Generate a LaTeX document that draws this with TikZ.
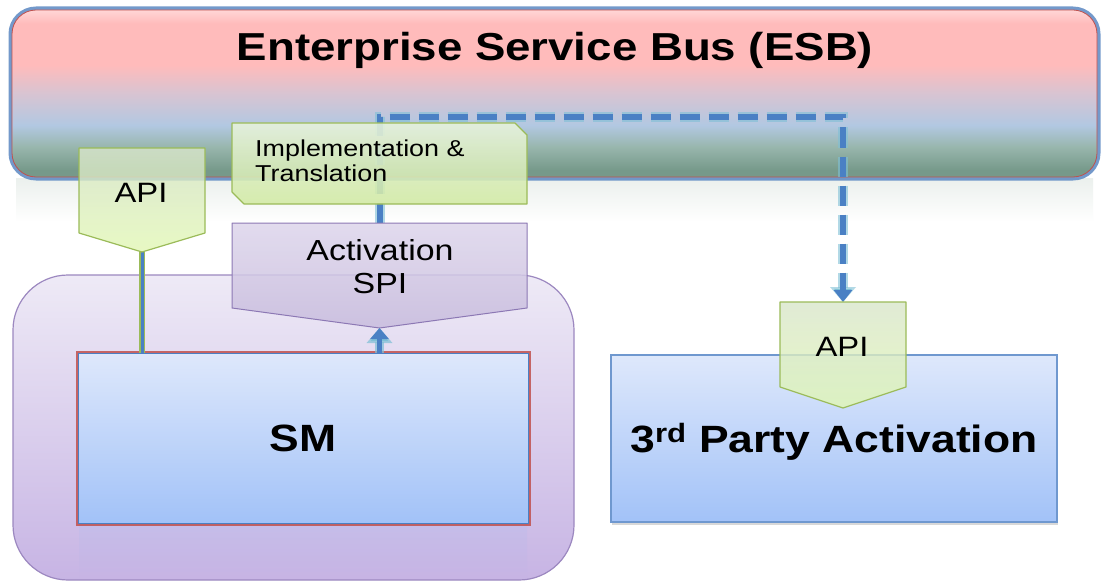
\documentclass[tikz,border=0pt]{standalone}
\usepackage{fontspec}
\setmainfont{Liberation Sans}
\newfontfamily\widefont[FakeStretch=1.17]{Liberation Sans}
\usetikzlibrary{arrows.meta,calc,shadows}

% bus colours
\definecolor{esbpinktop}{HTML}{FFD6D6}
\definecolor{esbpink}{HTML}{FFBBBB}
\definecolor{esbmauve}{HTML}{D8C4D2}
\definecolor{esbblue}{HTML}{B2C8E2}
\definecolor{esbteal}{HTML}{98B6AD}
\definecolor{esbgreen}{HTML}{76998A}
\definecolor{esbfade}{HTML}{EBF0ED}
\definecolor{glowblue}{HTML}{5B88C2}
\definecolor{busred}{HTML}{C0504D}
% tags and boxes
\definecolor{tagtop}{HTML}{D9E6CB}
\definecolor{tagbottom}{HTML}{E1F7B4}
\definecolor{tagline}{HTML}{9BBB59}
\definecolor{impltop}{HTML}{E8F3DC}
\definecolor{implbottom}{HTML}{D1EAA4}
\definecolor{spitop}{HTML}{DDD5EB}
\definecolor{spibottom}{HTML}{C8BCDE}
\definecolor{spiline}{HTML}{8C78B4}
\definecolor{zonetop}{HTML}{EEEAF6}
\definecolor{zonebottom}{HTML}{C7B4E4}
\definecolor{zoneline}{HTML}{9C88C0}
\definecolor{boxtop}{HTML}{DEE8FB}
\definecolor{boxbottom}{HTML}{A2C2F8}
\definecolor{boxline}{HTML}{6F98CF}
\definecolor{linkblue}{HTML}{4A80C4}
\definecolor{linkglow}{HTML}{7FC0D6}

\pgfdeclareverticalshading{esbshade}{100bp}{color(0bp)=(esbgreen); color(27bp)=(esbgreen); color(34bp)=(esbteal); color(40.5bp)=(esbblue); color(50bp)=(esbmauve); color(58.5bp)=(esbpink); color(71bp)=(esbpink); color(75bp)=(esbpinktop); color(100bp)=(esbpinktop)}

\tikzset{
  frame/.style={inner sep=0pt, outer sep=0pt},
  busbox/.style={frame, shade, shading=esbshade, draw=busred, line width=0.8pt,
    rounded corners=24pt, preaction={draw=glowblue, line width=7pt, draw opacity=0.85}},
  zonebox/.style={frame, top color=zonetop, bottom color=zonebottom, draw=zoneline,
    line width=1.2pt, rounded corners=55pt},
  appbox/.style={frame, top color=boxtop, bottom color=boxbottom, text height=27pt, text depth=0pt,
    font=\widefont\bfseries\fontsize{38}{42}\selectfont},
  tagfill/.style={top color=tagtop, bottom color=tagbottom, draw=tagline, line width=1.2pt,
    fill opacity=0.8, line join=round},
  implfill/.style={top color=impltop, bottom color=implbottom, draw=tagline, line width=1.2pt,
    fill opacity=0.88, line join=round},
  spifill/.style={top color=spitop, bottom color=spibottom, draw=spiline, line width=1pt,
    fill opacity=0.85, line join=round},
  taglabel/.style={anchor=base, font=\widefont\fontsize{28}{32}\selectfont},
  apilink/.style={draw=tagline, double=linkblue, double distance=3pt, line width=1.5pt},
  uparrow/.style={draw=linkblue, line width=5pt, -{Triangle[width=18pt,length=11pt]},
    preaction={draw=linkglow, draw opacity=0.7, line width=9pt, -{Triangle[width=25pt,length=15pt]}}},
  buslink/.style={draw=linkblue, line width=6pt, dash pattern=on 20pt off 9pt,
    -{Triangle[width=18pt,length=12pt]},
    preaction={draw=linkglow, draw opacity=0.6, line width=10pt, dash pattern=on 20pt off 9pt,
      -{Triangle[width=25pt,length=15pt]}}}
}

\begin{document}
\begin{tikzpicture}[x=1pt,y=-1pt]
  \useasboundingbox[fill=white] (0,0) rectangle (1102,583);

  % bus with its reflection
  \shade[top color=esbfade, bottom color=white] (16,178) rectangle (1093,222);
  \node[busbox, minimum width=1085pt, minimum height=167pt] (esb) at (554.5,93.5) {};
  \node[anchor=base, font=\widefont\bfseries\fontsize{39}{44}\selectfont] (esbtitle) at (555,61)
    {Enterprise Service Bus (ESB)};

  % SM side
  \node[zonebox, minimum width=561pt, minimum height=305pt] (zone) at (293.5,427.5) {};
  \shade[top color=boxbottom!55!zonebottom, bottom color=zonebottom, fill opacity=0.3]
    (79,524) rectangle (527,578);
  \node[appbox, minimum width=450pt, minimum height=170pt, draw=linkblue, line width=0.8pt,
    preaction={draw=busred, draw opacity=0.85, line width=5pt}] (sm) at (303,438) {SM};

  % third party side
  \node[appbox, minimum width=446pt, minimum height=167pt, draw=boxline, line width=1.5pt,
    drop shadow={shadow xshift=1pt, shadow yshift=-3pt, opacity=0.3}] (tpa) at (834,438.5)
    {3\textsuperscript{rd} Party Activation};

  % tag frames
  \node[frame, minimum width=126pt, minimum height=85pt] (apil) at (142,190.5) {};
  \node[frame, minimum width=126pt, minimum height=85pt] (apir) at (843,344.5) {};
  \node[frame, minimum width=295pt, minimum height=85pt] (spi) at (379.5,265.5) {};
  \node[frame, minimum width=295pt, minimum height=81pt] (impl) at (379.5,163.5) {};
  \coordinate (apiltip) at ($(apil.south)+(0,19)$);
  \coordinate (apirtip) at ($(apir.south)+(0,21)$);
  \coordinate (spitip) at ($(spi.south)+(0,20)$);
  \coordinate (busroute) at (600,117);

  % routing over the bus
  \draw[buslink] (spi.north) |- (apir.north |- busroute) -- (apir.north);
  \draw[apilink] (apiltip) -- (apiltip |- sm.north);

  % tags
  \shade[tagfill] (apil.north west) -- (apil.north east) -- (apil.south east) -- (apiltip)
    -- (apil.south west) -- cycle;
  \shade[tagfill] (apir.north west) -- (apir.north east) -- (apir.south east) -- (apirtip)
    -- (apir.south west) -- cycle;
  \shade[spifill] (spi.north west) -- (spi.north east) -- (spi.south east) -- (spitip)
    -- (spi.south west) -- cycle;
  \shade[implfill] (impl.north west) -- ($(impl.north east)+(-12,0)$) -- ($(impl.north east)+(0,12)$)
    -- (impl.south east) -- ($(impl.south west)+(12,0)$) -- ($(impl.south west)+(0,-12)$) -- cycle;

  \draw[uparrow] (sm.north -| spitip) -- (spitip);

  % tag labels
  \node[taglabel] (apiltxt) at (141,202) {API};
  \node[taglabel] (apirtxt) at (842,356) {API};
  \node[anchor=north, align=center, inner sep=0pt, font=\widefont\fontsize{29}{33}\selectfont]
    (spitxt) at (380,239) {Activation\\SPI};
  \node[anchor=north west, align=left, inner sep=0pt, font=\widefont\fontsize{23}{25}\selectfont]
    (impltxt) at (255,140) {Implementation \&\\Translation};
\end{tikzpicture}
\end{document}
